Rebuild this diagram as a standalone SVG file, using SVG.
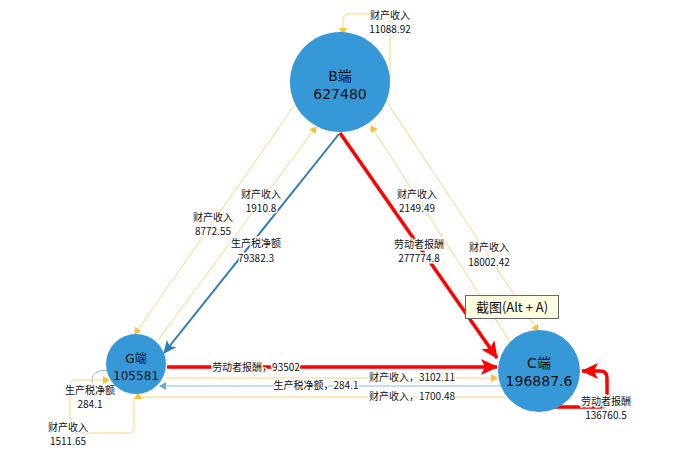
<svg xmlns="http://www.w3.org/2000/svg" width="692" height="459" viewBox="0 0 692 459">
<style>
text{font-family:"Noto Sans CJK SC","Noto Sans",sans-serif;font-size:10px;fill:#111;text-anchor:middle}
.nt{font-size:14px;font-family:"DejaVu Sans","Noto Sans CJK SC",sans-serif}
.ys{fill:none;stroke:#fdd27a;stroke-width:1}
.bs{fill:none;stroke:#2e7bb4;stroke-width:2}
.bt{fill:none;stroke:#8fbbe0;stroke-width:1}
.rs{fill:none;stroke:#ff0000;stroke-width:3.5}
.lb{paint-order:stroke;stroke:#fff;stroke-width:3px}
</style>
<defs>
<marker id="ya" markerWidth="8" markerHeight="8" refX="6" refY="4" orient="auto" markerUnits="userSpaceOnUse"><path d="M0,0 L7,4 L0,8 z" fill="#fdc02f"/></marker>
<marker id="ba" markerWidth="14" markerHeight="12" refX="12" refY="6" orient="auto" markerUnits="userSpaceOnUse"><path d="M0,0 L13,6 L0,12 L3,6 z" fill="#2e7bb4"/></marker>
<marker id="bta" markerWidth="8" markerHeight="8" refX="6" refY="4" orient="auto" markerUnits="userSpaceOnUse"><path d="M0,0 L7,4 L0,8 z" fill="#6ea6d4"/></marker>
<marker id="ra" markerWidth="18" markerHeight="16" refX="16" refY="8" orient="auto" markerUnits="userSpaceOnUse"><path d="M0,0 L17,8 L0,16 L4,8 z" fill="#ff0000"/></marker>
</defs>
<g id="connectors">
<path class="ys" d="M390,80 V20 Q390,14 384,14 H350 Q343,14 343,20 V34" marker-end="url(#ya)"/>
<path class="ys" d="M296,103 L135,334" marker-end="url(#ya)"/>
<path class="ys" d="M158,340 L316,127" marker-end="url(#ya)"/>
<path class="ys" d="M512,345 L371,126" marker-end="url(#ya)"/>
<path class="ys" d="M387,102 L538,331" marker-end="url(#ya)"/>
<path class="bs" d="M339,134 L164,353" marker-end="url(#ba)"/>
<path class="rs" d="M340,133 L497,358" marker-end="url(#ra)"/>
<path class="rs" d="M167,367 H497" marker-end="url(#ra)"/>
<path class="ys" d="M166,378 H497" marker-end="url(#ya)"/>
<path class="bt" d="M502,386 H160" marker-end="url(#bta)"/>
<path class="ys" d="M510,397 H138 V393" marker-end="url(#ya)"/>
<path class="bt" d="M108,370 Q92,370 92,380 V383"/>
<path class="ys" d="M134,398 V427 Q134,433 128,433 H76 Q70,433 70,427 V386 Q70,380 76,380 H109" marker-end="url(#ya)"/>
<path class="rs" d="M537,407 H600 Q607,407 607,400 V378 Q607,371 600,371 H582" marker-end="url(#ra)"/>
</g>
<g id="labels">
<text x="390" y="19" class="lb">财产收入</text><text x="390" y="33" class="lb">11088.92</text>
<text x="213" y="221" class="lb">财产收入</text><text x="213" y="235" class="lb">8772.55</text>
<text x="261" y="198" class="lb">财产收入</text><text x="261" y="212" class="lb">1910.8</text>
<text x="256" y="247" class="lb">生产税净额</text><text x="256" y="262" class="lb">79382.3</text>
<text x="417" y="198" class="lb">财产收入</text><text x="417" y="212" class="lb">2149.49</text>
<text x="419" y="248" class="lb">劳动者报酬</text><text x="419" y="262" class="lb">277774.8</text>
<text x="489" y="251" class="lb">财产收入</text><text x="489" y="266" class="lb">18002.42</text>
<text x="256" y="371" class="lb">劳动者报酬，93502</text>
<text x="412" y="381" class="lb">财产收入，3102.11</text>
<text x="316" y="389" class="lb">生产税净额，284.1</text>
<text x="412" y="400" class="lb">财产收入，1700.48</text>
<text x="90" y="394" class="lb">生产税净额</text><text x="90" y="408" class="lb">284.1</text>
<text x="68" y="431" class="lb">财产收入</text><text x="68" y="445" class="lb">1511.65</text>
<text x="606" y="405" class="lb">劳动者报酬</text><text x="606" y="419" class="lb">136760.5</text>
</g>
<g id="node-B"><circle cx="340" cy="82" r="50" fill="#3798d7"/><text class="nt" x="340" y="81">B端</text><text class="nt" x="340" y="99">627480</text></g>
<g id="node-G"><circle cx="136" cy="364" r="30" fill="#3798d7"/><text class="nt" x="136" y="363" style="font-size:12px">G端</text><text class="nt" x="136" y="380" style="font-size:12px">105581</text></g>
<g id="node-C"><circle cx="539" cy="371" r="41" fill="#3798d7"/><text class="nt" x="539" y="368">C端</text><text class="nt" x="539" y="386">196887.6</text></g>
<g id="tooltip"><rect x="465.5" y="295.5" width="93" height="23" fill="#ffffe1" stroke="#666"/><text x="512" y="312" style="font-size:13px">截图(Alt + A)</text></g>
</svg>
